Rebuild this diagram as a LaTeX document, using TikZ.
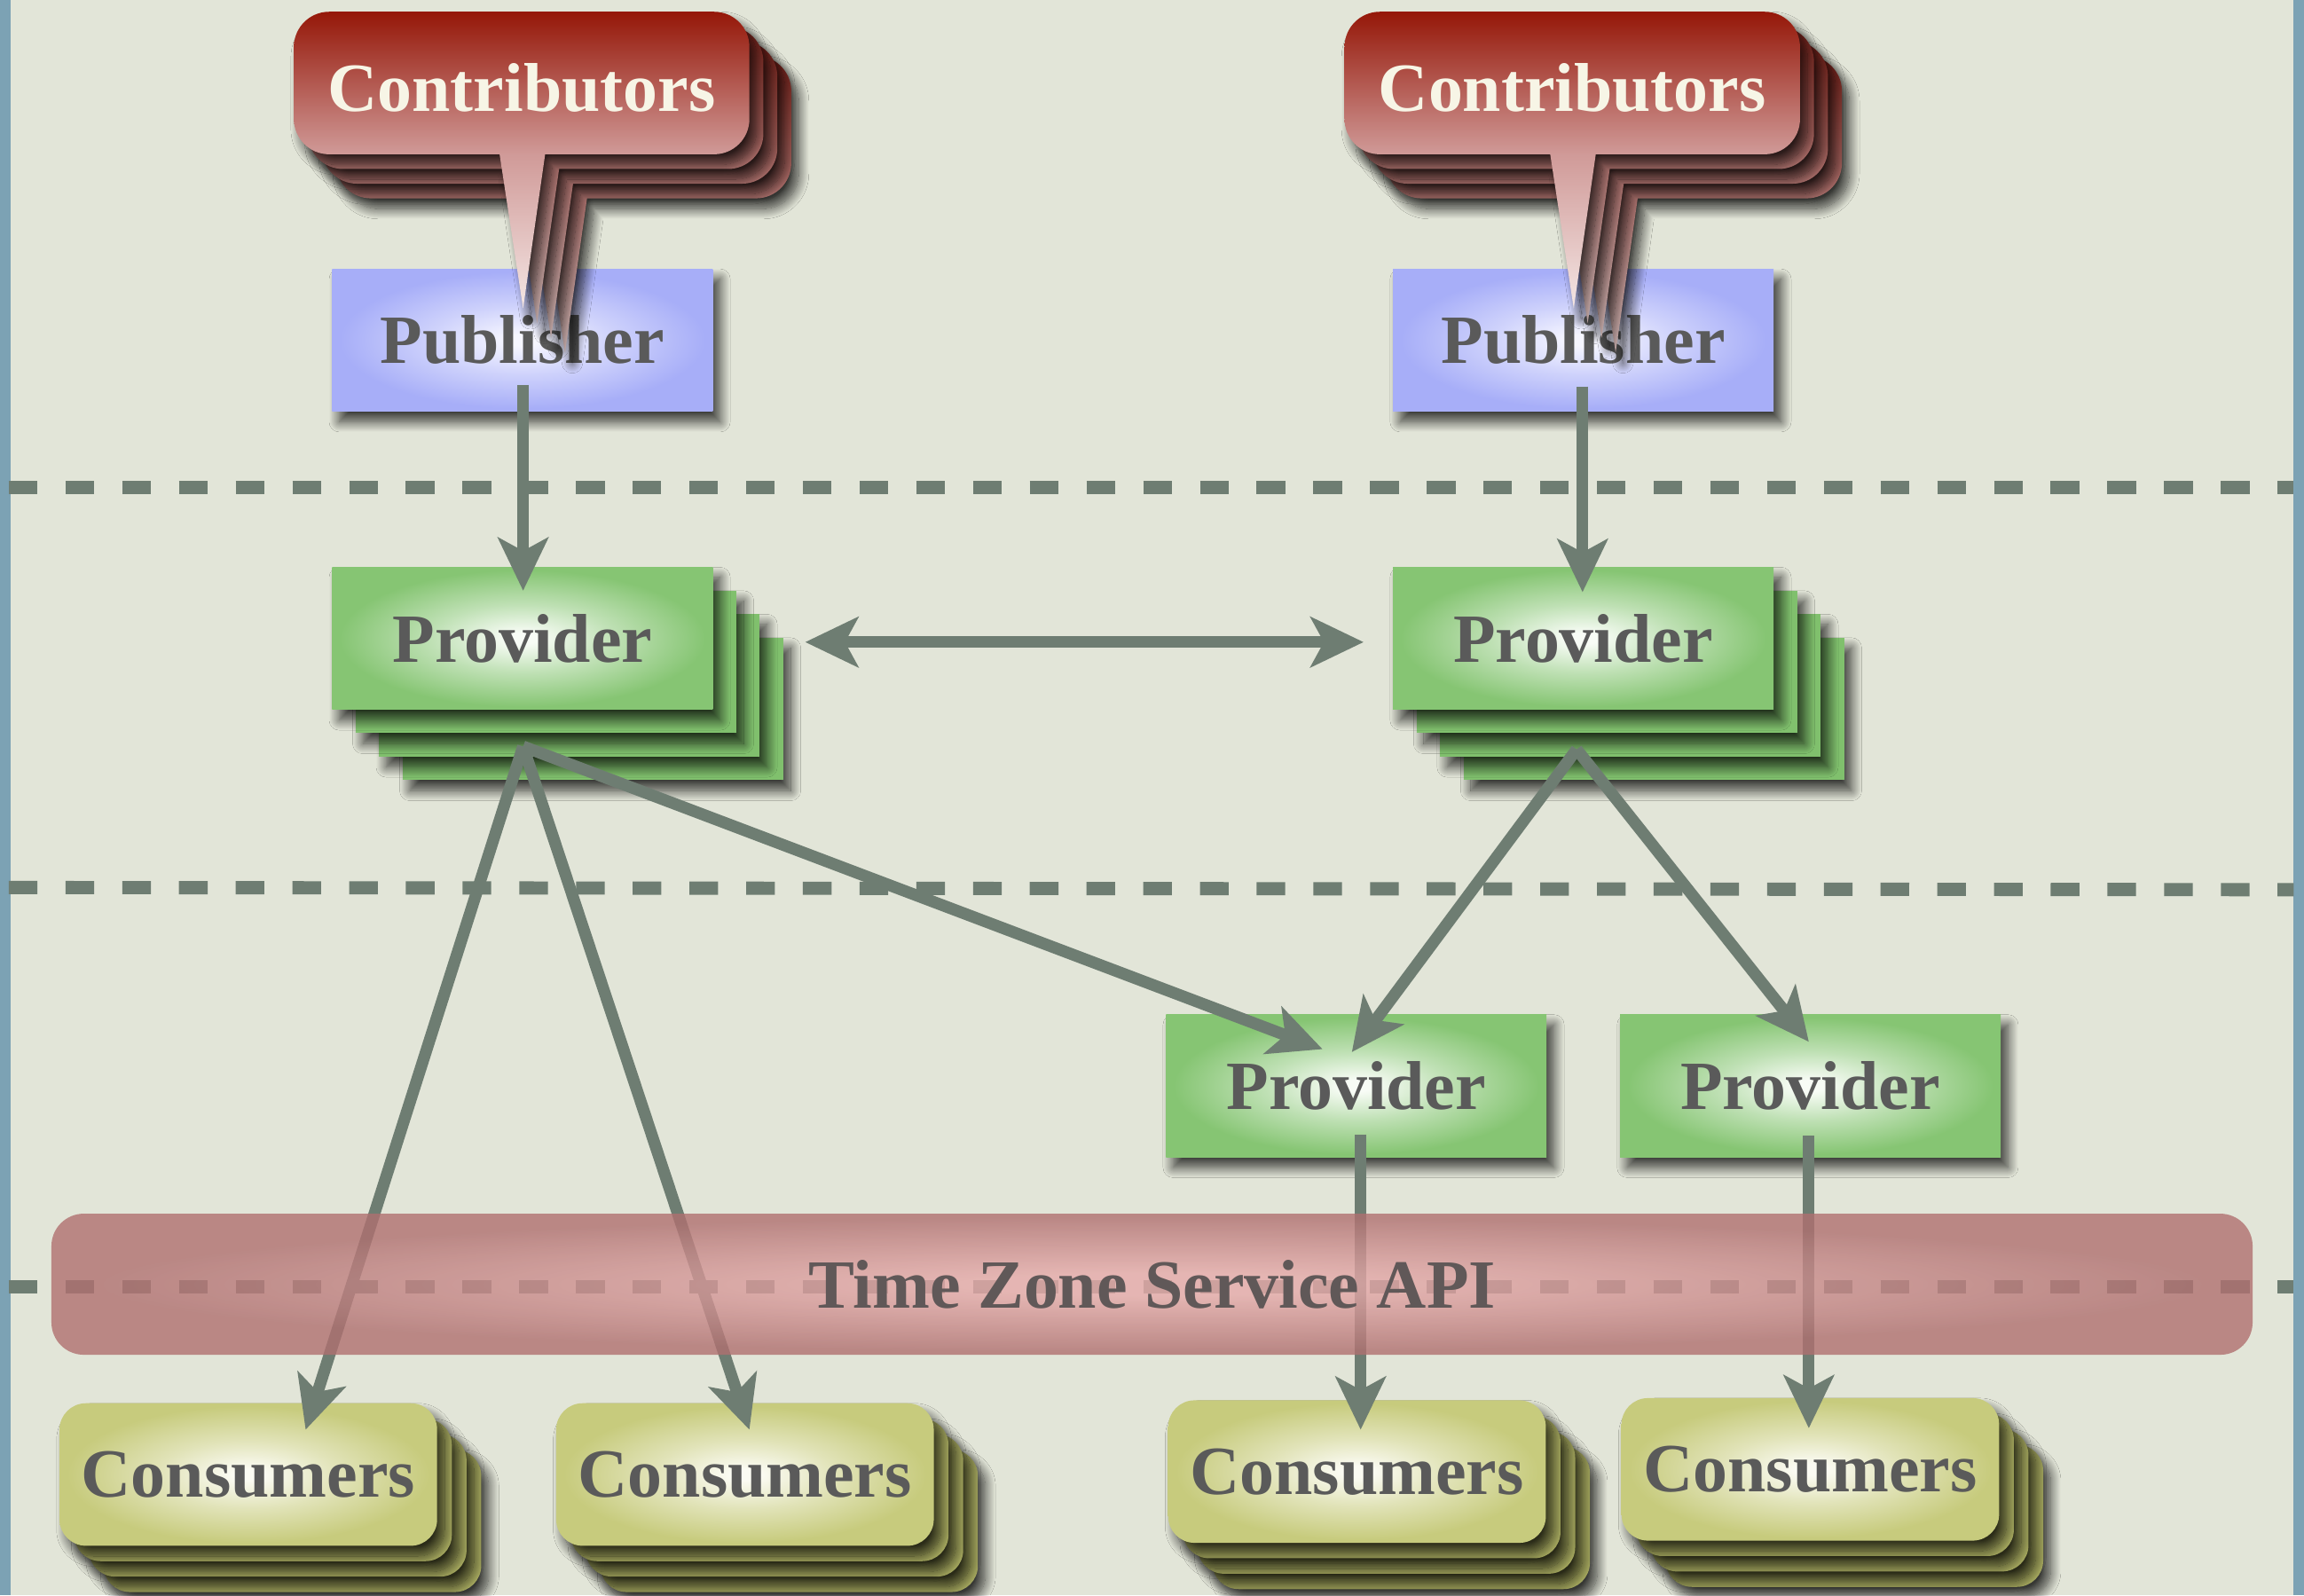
\documentclass[tikz,border=0pt]{standalone}
\usepackage{fontspec}
\setmainfont{Liberation Serif}
\usetikzlibrary{arrows.meta,calc,shadows.blur}
\definecolor{bgc}{HTML}{E2E5D8}
\definecolor{framec}{HTML}{7CA2B4}
\definecolor{arrowc}{HTML}{6E7D72}
\definecolor{txtc}{HTML}{5A5A5A}
\definecolor{ctxt}{HTML}{F7F5E6}
\definecolor{provc}{HTML}{86C573}
\definecolor{provcen}{HTML}{F8FCF6}
\definecolor{provbk}{HTML}{80C06D}
\definecolor{pubc}{HTML}{A7AEF8}
\definecolor{pubcen}{HTML}{F6F6FF}
\definecolor{consc}{HTML}{C7CB7D}
\definecolor{conscen}{HTML}{FBFBF3}
\definecolor{consbk}{HTML}{ADB063}
\definecolor{ctop}{HTML}{951708}
\definecolor{cmid}{HTML}{D09A98}
\definecolor{ctip}{HTML}{F4E6E4}
\definecolor{cbtop}{HTML}{7A2018}
\definecolor{cbmid}{HTML}{B67874}
\definecolor{cbtip}{HTML}{D2B8B6}
\definecolor{apiin}{HTML}{E6AAAA}
\definecolor{apiout}{HTML}{B07070}
\definecolor{apitxt}{HTML}{605858}
\pgfdeclareradialshading{provshade}{\pgfpoint{0bp}{0bp}}{color(0bp)=(provcen); color(2bp)=(provcen); color(12bp)=(provc!50!provcen); color(24bp)=(provc); color(50bp)=(provc)}
\pgfdeclareradialshading{pubshade}{\pgfpoint{0bp}{0bp}}{color(0bp)=(pubcen); color(2bp)=(pubcen); color(12bp)=(pubc!50!pubcen); color(24bp)=(pubc); color(50bp)=(pubc)}
\pgfdeclareradialshading{consshade}{\pgfpoint{0bp}{0bp}}{color(0bp)=(conscen); color(2bp)=(conscen); color(12bp)=(consc!50!conscen); color(24bp)=(consc); color(50bp)=(consc)}
\pgfdeclareradialshading{apishade}{\pgfpoint{0bp}{0bp}}{color(0bp)=(apiin); color(4bp)=(apiin); color(24bp)=(apiout); color(50bp)=(apiout)}
\pgfdeclareverticalshading{contribshade}{100bp}{color(0bp)=(ctip); color(25bp)=(ctip); color(51bp)=(cmid); color(75bp)=(ctop); color(100bp)=(ctop)}
\pgfdeclareverticalshading{contribbackshade}{100bp}{color(0bp)=(cbtip); color(25bp)=(cbtip); color(51bp)=(cbmid); color(75bp)=(cbtop); color(100bp)=(cbtop)}
\tikzset{
  lbl/.style={font=\fontsize{47}{56}\selectfont\bfseries, text=txtc},
  shad/.style={blur shadow={shadow xshift=5pt, shadow yshift=-7pt, shadow blur radius=7pt, shadow blur steps=16, shadow opacity=75}},
  pubbox/.style={lbl, shad, shade, shading=pubshade, minimum width=259pt, minimum height=97pt, inner sep=0pt},
  provbox/.style={lbl, shad, shade, shading=provshade, minimum width=259pt, minimum height=97pt, inner sep=0pt},
  provback/.style={shad, fill=provbk},
  consbox/.style={lbl, shad, shade, shading=consshade, rounded corners=18pt, minimum width=257pt, minimum height=97pt, inner sep=0pt},
  consback/.style={shad, fill=consbk, rounded corners=18pt},
  bubfront/.style={shad, shade, shading=contribshade},
  bubback/.style={shad, shade, shading=contribbackshade},
  contribtext/.style={font=\fontsize{47}{56}\selectfont\bfseries, text=ctxt, inner sep=0pt},
  conn/.style={draw=arrowc, line width=8pt, ->},
  biconn/.style={draw=arrowc, line width=8pt, <->},
  dashline/.style={draw=arrowc, line width=9pt, dash pattern=on 19.5pt off 19.1pt},
  apibar/.style={lbl, shade, shading=apishade, fill opacity=0.8, text opacity=1, text=apitxt, rounded corners=22pt, minimum width=1498pt, minimum height=96pt, inner sep=0pt}
}
\newcommand\bubbleat[3]{\path[#1] ({#2-15},{#3+48.5}) -- ++(16,105) -- ++(15,-105) -- ++(115,0) arc[start angle=90,end angle=0,radius=24] -- ++(0,-49) arc[start angle=0,end angle=-90,radius=24] -- ++(-262,0) arc[start angle=-90,end angle=-180,radius=24] -- ++(0,49) arc[start angle=180,end angle=90,radius=24] -- cycle;}
\newcommand\contribstack[3]{%
  \foreach \k in {3,2,1}{\bubbleat{bubback}{#2+9.5*\k}{#3+10*\k}}
  \bubbleat{bubfront}{#2}{#3}
  \node[contribtext] (#1) at (#2,{#3+3}) {Contributors};}
\newcommand\provstack[3]{%
  \foreach \k in {3,2,1}{\path[provback] ({#2-129.5+16*\k},{#3-48.5+16*\k}) rectangle ++(259,97);}
  \node[provbox] (#1) at (#2,#3) {Provider};}
\newcommand\consstack[3]{%
  \foreach \k in {3,2,1}{\path[consback] ({#2-128.5+10*\k},{#3-48.5+10.5*\k}) rectangle ++(257,97);}
  \node[consbox] (#1) at (#2,#3) {Consumers};}
\begin{document}
\begin{tikzpicture}[x=1pt,y=-1pt,>={Stealth[length=36pt,width=34pt,inset=9pt]}]
\useasboundingbox (0,0) rectangle (1568,1085.6);
\fill[bgc] (0,0) rectangle (1568,1085.6);
\fill[framec] (0,0) rectangle (7,1085.6);
\fill[framec] (1561,0) rectangle (1568,1085.6);
% separators
\draw[dashline] (6,331.5) -- (1561,331.5);
\draw[dashline] (6,604) -- (1561,605.5);
\draw[dashline] (6,876) -- (1561,876);
% publishers
\node[pubbox] (pubL) at (355.5,231.5) {Publisher};
\node[pubbox] (pubR) at (1077.5,231.5) {Publisher};
% contributors
\contribstack{contribL}{355}{56.5}
\contribstack{contribR}{1070}{56.5}
% providers
\provstack{provL}{355.5}{434.5}
\provstack{provR}{1077.5}{434.5}
\node[provbox] (provM) at (923,739) {Provider};
\node[provbox] (provFR) at (1232,739) {Provider};
% consumers
\consstack{consA}{169}{1003.5}
\consstack{consB}{507}{1003.5}
\consstack{consC}{923.5}{1001.5}
\consstack{consD}{1232}{1000}
% connectors
\coordinate (hubL) at ($(provL.center)+(0.5,73.5)$);
\coordinate (hubR) at ($(provR.center)+(-4.5,75.5)$);
\draw[conn] ($(pubL.center)+(0.5,30.5)$) -- ($(provL.center)+(0.5,-32.5)$);
\draw[conn] ($(pubR.center)+(-0.5,31.5)$) -- ($(provR.center)+(-0.5,-31.5)$);
\draw[biconn] ($(provL.center)+(192.5,2.5)$) -- ($(provR.center)+(-149.5,2.5)$);
\draw[conn] (hubL) -- ($(consA.center)+(39,-30.5)$);
\draw[conn] (hubL) -- ($(consB.center)+(3,-30.5)$);
\draw[conn] (hubL) -- ($(provM.center)+(-23,-25)$);
\draw[conn] (hubR) -- ($(provM.center)+(-3,-23)$);
\draw[conn] (hubR) -- ($(provFR.center)+(-1,-30)$);
\draw[conn] ($(provM.center)+(3,33)$) -- ($(consC.center)+(2.5,-28.5)$);
\draw[conn] ($(provFR.center)+(-1,34)$) -- ($(consD.center)+(-1,-28)$);
% API bar
\node[apibar] (api) at (784,874) {Time Zone Service API};
\end{tikzpicture}
\end{document}
